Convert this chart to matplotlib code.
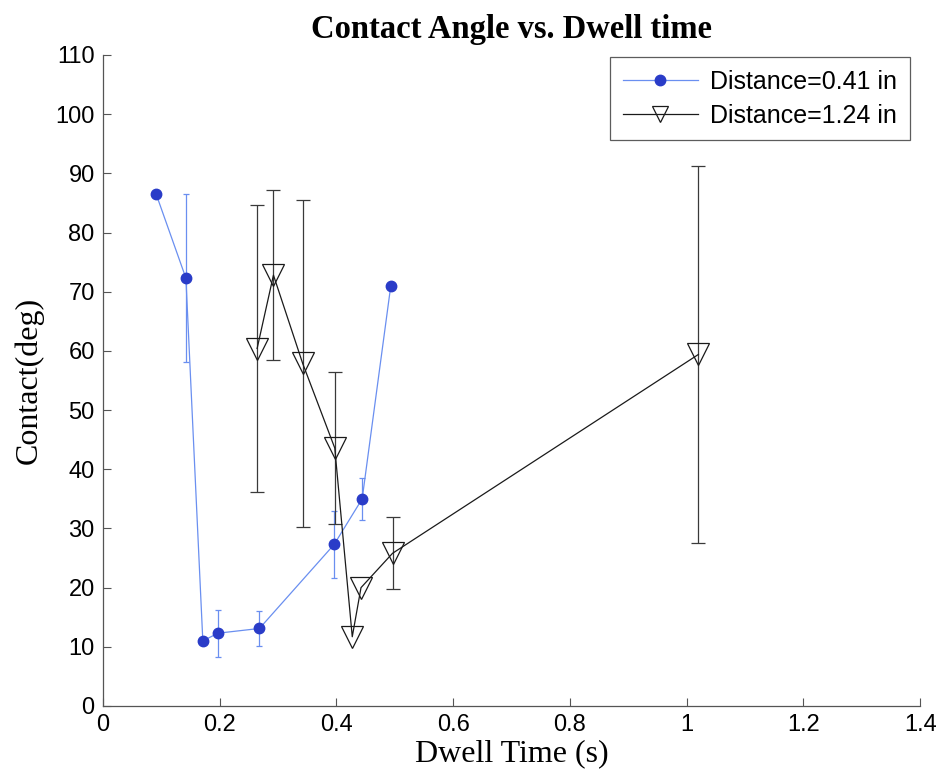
import numpy as np
import matplotlib
matplotlib.use('Agg')
import matplotlib.pyplot as plt

# data
t_near = [0.091, 0.142, 0.171, 0.197, 0.268, 0.396, 0.444, 0.493]
ang_near = [86.5, 72.3, 11.0, 12.3, 13.1, 27.3, 35.0, 71.0]
err_near = [0.0, 14.2, 0.0, 4.0, 2.9, 5.6, 3.5, 0.0]

t_far = [0.264, 0.292, 0.342, 0.397, 0.427, 0.442, 0.496, 1.020]
ang_far = [60.4, 72.8, 57.9, 43.6, 11.7, 20.0, 25.8, 59.4]
err_far = [24.2, 14.4, 27.6, 12.8, 0.0, 0.0, 6.1, 31.8]

label_near = 'Distance=0.41 in'
label_far = 'Distance=1.24 in'

line_blue = '#6a8ff0'
dot_blue = '#2a3cc8'

fig = plt.figure(figsize=(9.39, 7.82), dpi=100)
ax = fig.add_axes([0.1097, 0.0972, 0.8703, 0.8325])

# error bars only where the original shows them
tn, an, en = np.array(t_near), np.array(ang_near), np.array(err_near)
m = en > 0
ax.errorbar(tn[m], an[m], yerr=en[m], fmt='none', ecolor=line_blue,
            elinewidth=0.9, capsize=2.5, capthick=0.9)

tf, af, ef = np.array(t_far), np.array(ang_far), np.array(err_far)
m = ef > 0
ax.errorbar(tf[m], af[m], yerr=ef[m], fmt='none', ecolor='#3a3a3a',
            elinewidth=0.9, capsize=5, capthick=0.9)

ax.plot(t_near, ang_near, '-o', color=line_blue, lw=0.9, ms=7.5,
        mfc=dot_blue, mec=dot_blue, label=label_near)
ax.plot(t_far, ang_far, '-v', color='#1a1a1a', lw=0.9, ms=16,
        mfc='none', mec='#1a1a1a', mew=0.9, label=label_far)

ax.set_xlim(0, 1.4)
ax.set_ylim(0, 110)
ax.set_xticks(np.arange(0, 1.41, 0.2))
ax.set_xticklabels(['0', '0.2', '0.4', '0.6', '0.8', '1', '1.2', '1.4'])
ax.set_yticks(np.arange(0, 111, 10))

for s in ['top', 'right']:
    ax.spines[s].set_visible(False)
for s in ['left', 'bottom']:
    ax.spines[s].set_color('#555555')
    ax.spines[s].set_linewidth(0.9)

ax.tick_params(direction='in', length=6, width=0.8, color='#555555',
               labelsize=17, pad=6)
for lab in ax.get_xticklabels() + ax.get_yticklabels():
    lab.set_family('Liberation Sans')

ax.set_title('Contact Angle vs. Dwell time', fontsize=23.5, fontweight='bold',
             family='Liberation Serif', pad=12)
ax.set_xlabel('Dwell Time (s)', fontsize=23, family='Liberation Serif', labelpad=2)
ax.set_ylabel('Contact(deg)', fontsize=23, family='Liberation Serif', labelpad=8)

leg = ax.legend(loc='upper right', bbox_to_anchor=(0.99, 1.0), fancybox=False,
                edgecolor='#333333',
                prop={'family': 'Liberation Sans', 'size': 18},
                handlelength=3.0, borderaxespad=0.1, labelspacing=0.4,
                borderpad=0.5, handletextpad=0.5)
leg.get_frame().set_linewidth(0.9)
leg.legend_handles[1].set_markersize(11)

fig.savefig('out.png', dpi=100)
